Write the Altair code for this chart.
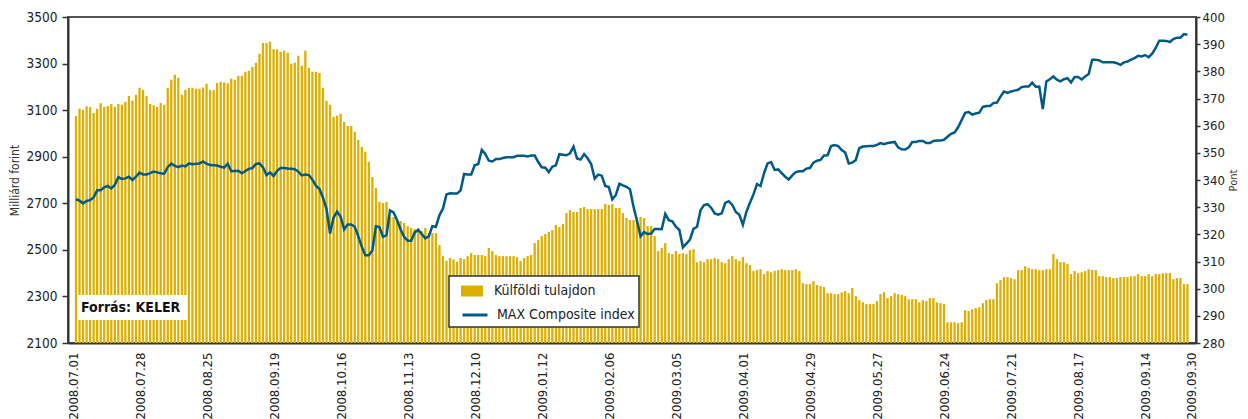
import altair as alt
import pandas as pd

# Foreign ownership (billion HUF), one value per trading day, 2008.07.01 - 2009.09.30
bars = [
    3075, 3106, 3101, 3117, 3113, 3088, 3106, 3130, 3114, 3118,
    3126, 3114, 3127, 3123, 3136, 3161, 3141, 3166, 3196, 3187,
    3160, 3127, 3121, 3114, 3131, 3123, 3196, 3230, 3252, 3239,
    3166, 3187, 3196, 3196, 3192, 3192, 3197, 3213, 3186, 3186,
    3217, 3222, 3219, 3215, 3235, 3230, 3248, 3248, 3265, 3269,
    3285, 3304, 3342, 3388, 3388, 3394, 3362, 3362, 3351, 3355,
    3347, 3299, 3304, 3334, 3291, 3355, 3282, 3265, 3265, 3260,
    3196, 3140, 3123, 3071, 3076, 3084, 3050, 3032, 3032, 3007,
    2972, 2942, 2921, 2878, 2813, 2766, 2706, 2701, 2706, 2641,
    2641, 2624, 2624, 2615, 2602, 2594, 2589, 2594, 2581, 2594,
    2572, 2572, 2572, 2521,
    2473, 2453, 2465, 2459, 2449, 2465, 2460, 2473, 2486, 2478,
    2478, 2478, 2473, 2508, 2495, 2478, 2473, 2473, 2473, 2473,
    2473, 2469, 2452, 2465, 2473, 2478, 2529, 2542, 2559, 2568,
    2577, 2585, 2607, 2598, 2611, 2658, 2671, 2663, 2663, 2680,
    2684, 2675, 2675, 2675, 2675, 2675, 2697, 2693, 2697, 2680,
    2680, 2658,
    2637, 2628, 2628, 2640, 2641, 2637, 2602, 2602, 2559, 2495,
    2508, 2529, 2486, 2482, 2495, 2482, 2486, 2482, 2499, 2503,
    2447, 2452, 2447, 2460, 2460, 2465, 2460, 2447, 2443, 2460,
    2473, 2460, 2452, 2469, 2443, 2435, 2409, 2413, 2417, 2396,
    2409, 2404, 2409, 2413, 2417, 2413, 2413, 2413, 2417, 2409,
    2357, 2353, 2353,
    2366, 2349, 2344, 2340, 2314, 2314, 2310, 2310, 2318, 2323,
    2314, 2336, 2301, 2284, 2275, 2267, 2267, 2267, 2280, 2310,
    2318, 2293, 2301, 2314, 2310, 2306, 2301, 2288, 2288, 2288,
    2275, 2284, 2280, 2293, 2293, 2275, 2271, 2267, 2189, 2189,
    2189, 2185, 2189, 2241, 2237, 2245, 2250, 2254, 2271, 2284,
    2288, 2288,
    2357, 2370, 2383, 2383, 2379, 2374, 2413, 2413, 2430, 2422,
    2417, 2417, 2413, 2413, 2417, 2417, 2482, 2460, 2447, 2447,
    2439, 2396, 2409, 2400, 2404, 2409, 2417, 2413, 2413, 2387,
    2387, 2383, 2383, 2379, 2379, 2383, 2383, 2383, 2387, 2387,
    2396, 2387, 2387, 2396, 2387, 2396, 2396, 2400, 2400, 2400,
    2374, 2379, 2379, 2353, 2353,
]

# MAX Composite index (points), same trading days
index_vals = [
    332.9, 332.4, 331.4, 332.3, 332.6, 333.6, 336.2, 336.2, 337.3, 337.8,
    336.9, 338.2, 341.0, 340.4, 340.6, 341.2, 340.0, 341.2, 342.7, 342.0,
    342.0, 342.5, 343.1, 342.8, 342.5, 342.3, 344.7, 346.0, 345.2, 344.7,
    345.3, 345.0, 346.1, 345.8, 346.0, 346.1, 346.8, 346.0, 345.5, 345.4,
    345.3, 344.9, 344.6, 346.0, 343.2, 343.3, 343.4, 342.5, 343.3, 344.1,
    344.4, 345.9, 346.1, 344.6, 341.8, 342.8, 341.5, 343.4, 344.4, 344.4,
    344.2, 344.1, 344.0, 343.1, 341.7, 342.0, 341.8, 340.1, 337.9, 336.7,
    333.5, 329.3, 320.3, 326.2, 328.4, 326.5, 321.8, 323.6, 323.6, 322.8,
    319.3, 315.4, 312.3, 312.3, 314.1, 323.0, 322.7, 319.1, 319.7, 328.8,
    328.1, 325.2, 321.8, 319.1, 317.6, 317.6, 320.7, 321.6, 320.1, 318.5,
    319.3, 323.0, 322.8, 327.0,
    329.5, 334.7, 335.1, 335.0, 335.0, 336.2, 342.2, 342.0, 342.0, 345.4,
    345.9, 351.1, 349.6, 347.1, 346.8, 347.7, 347.7, 348.1, 348.4, 348.4,
    348.4, 348.9, 348.9, 348.9, 348.7, 349.0, 349.0, 346.6, 344.7, 344.5,
    342.9, 344.9, 345.4, 349.5, 349.3, 349.1, 349.8, 352.3, 347.9, 347.5,
    349.5, 348.0, 345.9, 340.5, 342.0, 341.6, 337.8, 337.4, 332.9, 334.5,
    338.6, 338.0,
    337.5, 336.6, 330.2, 324.9, 319.3, 320.8, 320.1, 320.3, 322.0, 322.0,
    321.9, 327.5, 325.2, 324.8, 322.8, 321.6, 315.2, 316.6, 318.1, 322.0,
    322.8, 328.9, 330.8, 331.1, 329.8, 327.7, 327.2, 327.7, 331.6, 332.2,
    330.8, 328.2, 327.2, 323.5, 328.3, 331.6, 334.7, 338.5, 337.8, 342.5,
    346.1, 346.6, 343.7, 343.9, 342.5, 341.2, 340.2, 341.7, 342.9, 343.2,
    343.2, 344.2, 344.4,
    346.4, 347.1, 347.4, 349.0, 349.1, 352.5, 352.9, 352.5, 351.0, 350.1,
    346.1, 346.4, 347.4, 351.7, 352.3, 352.4, 352.5, 352.5, 352.9, 353.6,
    353.2, 353.6, 353.8, 354.0, 352.0, 351.3, 351.2, 352.0, 354.0, 354.0,
    354.4, 354.4, 353.6, 353.6, 354.4, 354.5, 354.5, 354.8, 355.9, 357.0,
    357.5, 359.4, 362.1, 364.7, 365.0, 364.1, 364.5, 364.8, 366.9, 367.2,
    367.2, 368.3,
    368.5, 370.7, 372.6, 372.1, 372.6, 372.9, 373.2, 374.2, 374.4, 374.4,
    375.8, 374.3, 374.4, 366.1, 376.3, 377.1, 378.1, 376.9, 376.3, 377.1,
    377.5, 375.9, 377.9, 377.9, 377.0, 378.1, 379.0, 384.3, 384.3, 384.0,
    383.3, 383.3, 383.3, 383.3, 383.0, 382.4, 383.3, 383.6, 384.3, 384.9,
    385.7, 385.5, 386.0, 385.2, 386.5, 388.6, 391.3, 391.3, 391.2, 390.8,
    391.9, 392.4, 392.4, 393.7, 393.5,
]

x_labels = [
    "2008.07.01", "2008.07.28", "2008.08.25", "2008.09.19", "2008.10.16",
    "2008.11.13", "2008.12.10", "2009.01.12", "2009.02.06", "2009.03.05",
    "2009.04.01", "2009.04.29", "2009.05.27", "2009.06.24", "2009.07.21",
    "2009.08.17", "2009.09.14", "2009.09.30",
]
label_step = 19  # trading days between axis labels

series_names = ["Külföldi tulajdon", "MAX Composite index"]

GOLD = "#DCAF00"
BLUE = "#005A86"
FONT = "DejaVu Sans Condensed"

n = len(bars)
offset = 0.85
df = pd.DataFrame({
    "pos": [i + offset for i in range(n)],
    "bar": bars,
    "idx": index_vals,
    "s1": series_names[0],
    "s2": series_names[1],
})

x_max = n + offset
tick_vals = [label_step * k for k in range(len(x_labels) - 1)] + [x_max]
label_array = "[" + ",".join("'" + s + "'" for s in x_labels) + "]"

x_enc = alt.X(
    "pos:Q",
    scale=alt.Scale(domain=[0, x_max], nice=False, zero=False),
    axis=alt.Axis(
        values=tick_vals,
        labelExpr=f"{label_array}[round(datum.value / {label_step})]",
        labelAngle=270,
        labelAlign="right",
        labelBaseline="middle",
        labelFontSize=13,
        labelPadding=9,
        labelOverlap=False,
        ticks=False,
        title=None,
    ),
)

base = alt.Chart(df)

bar_layer = base.mark_bar(size=2.3).encode(
    x=x_enc,
    y=alt.Y(
        "bar:Q",
        scale=alt.Scale(domain=[2100, 3500], nice=False, zero=False),
        axis=alt.Axis(
            values=list(range(2100, 3501, 200)),
            format="d",
            title="Milliárd forint",
            titleFontSize=12,
            titleFontWeight="normal",
            titleColor="#333",
            titlePadding=5,
            labelFontSize=13.5,
            labelPadding=5,
            tickSize=6,
        ),
    ),
    y2=alt.datum(2100),
    fill=alt.Fill(
        "s1:N",
        scale=alt.Scale(domain=[series_names[0]], range=[GOLD]),
        legend=alt.Legend(
            orient="none",
            legendX=393,
            legendY=263,
            title=None,
            symbolType="M-1,-0.5H1V0.5H-1Z",
            symbolSize=484,
            symbolStrokeWidth=0,
            labelFont=FONT,
            labelFontSize=14,
            labelColor="#222",
            labelOffset=11,
            padding=0,
        ),
    ),
)

line_layer = base.mark_line(strokeWidth=2.5).encode(
    x=x_enc,
    y=alt.Y(
        "idx:Q",
        scale=alt.Scale(domain=[280, 400], nice=False, zero=False),
        axis=alt.Axis(
            orient="right",
            values=list(range(280, 401, 10)),
            format="d",
            title="Pont",
            titleAngle=270,
            titleAlign="center",
            titleBaseline="middle",
            titleX=37,
            titleY=163,
            titleFontSize=11,
            titleFontWeight="normal",
            titleColor="#333",
            labelFontSize=13,
            labelPadding=2,
            tickSize=4,
        ),
    ),
    stroke=alt.Stroke(
        "s2:N",
        scale=alt.Scale(domain=[series_names[1]], range=[BLUE]),
        legend=alt.Legend(
            orient="none",
            legendX=393,
            legendY=284,
            title=None,
            symbolType="stroke",
            symbolSize=625,
            symbolStrokeWidth=3,
            labelFont=FONT,
            labelFontSize=14,
            labelColor="#222",
            labelOffset=8,
            padding=0,
        ),
    ),
)

one = pd.DataFrame({"a": [0]})

legend_box = alt.Chart(one).mark_rect(fill="white", stroke="#333", strokeWidth=1.5).encode(
    x=alt.value(381), x2=alt.value(571), y=alt.value(259), y2=alt.value(310)
)

source_box = alt.Chart(one).mark_rect(fill="white").encode(
    x=alt.value(9), x2=alt.value(119), y=alt.value(278), y2=alt.value(303)
)

source_text = alt.Chart(one).mark_text(
    align="left", baseline="middle", font=FONT, fontSize=14, fontWeight="bold", color="#111"
).encode(x=alt.value(13), y=alt.value(291), text=alt.value("Forrás:  KELER"))

chart = (
    alt.layer(bar_layer, line_layer, legend_box, source_box, source_text)
    .resolve_scale(y="independent", fill="independent", stroke="independent")
    .properties(
        width=1128,
        height=326,
        autosize=alt.AutoSizeParams(type="none"),
        padding={"left": 60, "top": 9, "right": 44, "bottom": 76},
    )
    .configure_axis(
        labelFont=FONT,
        titleFont=FONT,
        labelColor="#222",
        domainColor="#333",
        domainWidth=2,
        tickColor="#333",
        tickWidth=1.5,
        grid=False,
    )
    .configure_view(stroke="#555", strokeWidth=2)
)

chart.save("out.html", embed_options={"renderer": "svg", "actions": False})
